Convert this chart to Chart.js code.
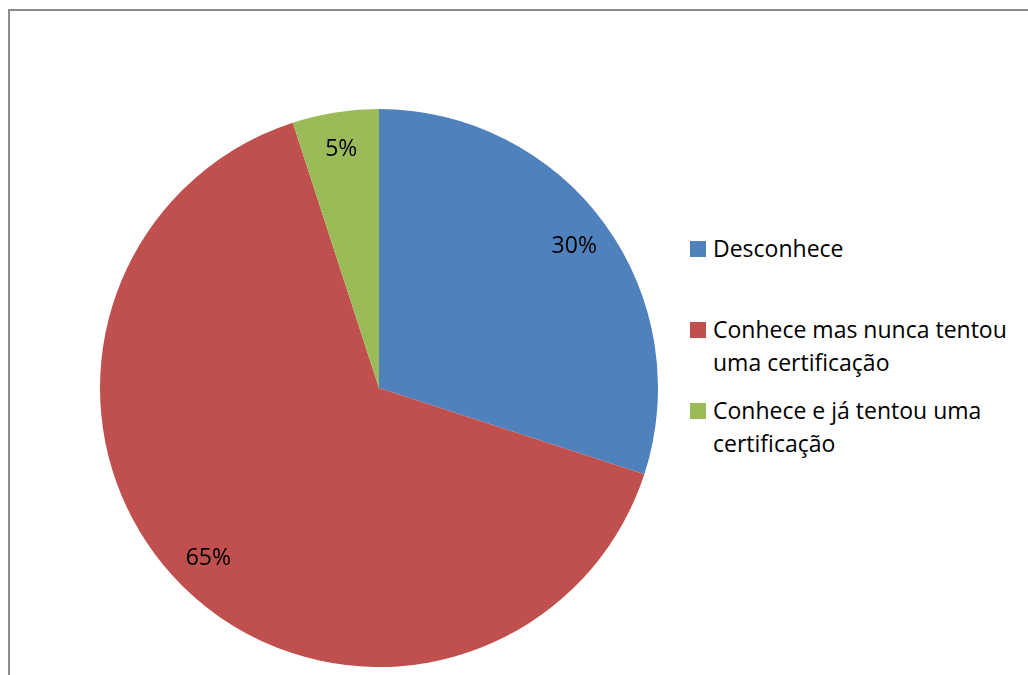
<!DOCTYPE html>
<html>
<head>
<meta charset="utf-8">
<script src="https://cdn.jsdelivr.net/npm/chart.js@4"></script>
<style>
    html, body { margin: 0; padding: 0; width: 1028px; height: 675px; overflow: hidden; background: #fff; }
    #frame { position: absolute; left: 8px; top: 9px; width: 1100px; height: 800px; border: 2px solid #8c8c8c; box-sizing: border-box; }
    #pieBox { position: absolute; left: 100px; top: 109px; width: 558px; height: 558px; }
    #legend { position: absolute; left: 690px; top: 232px; width: 332px; font-family: "Open Sans", sans-serif; font-size: 23px; color: #000; }
    .item { position: relative; padding-left: 23px; line-height: 33px; height: 81px; }
    .item .box { position: absolute; left: 0; top: 9px; width: 16px; height: 16px; }
</style>
</head>
<body>
<div id="frame"></div>
<div id="pieBox"><canvas id="pie"></canvas></div>
<div id="legend"></div>
<script>
const categories = ['Desconhece', 'Conhece mas nunca tentou uma certificação', 'Conhece e já tentou uma certificação'];
const shares = [30, 65, 5];
const colors = ['#4F81BD', '#C0504D', '#9BBB59'];

// percentage text inside each slice
const sliceLabels = {
    id: 'sliceLabels',
    afterDatasetsDraw(chart){
        let ctx = chart.ctx;
        let meta = chart.getDatasetMeta(0);
        ctx.save();
        ctx.font = '23px "Open Sans", sans-serif';
        ctx.fillStyle = '#000';
        ctx.textAlign = 'center';
        ctx.textBaseline = 'middle';
        meta.data.forEach((arc, i) => {
            let mid = (arc.startAngle + arc.endAngle) / 2;
            let r = arc.outerRadius * 0.865;
            ctx.fillText(shares[i] + '%', arc.x + Math.cos(mid) * r, arc.y + Math.sin(mid) * r);
        });
        ctx.restore();
    }
};

let chart = new Chart(document.getElementById('pie'), {
    type: 'pie',
    data: {
        labels: categories,
        datasets: [{
            data: shares,
            backgroundColor: colors,
            borderWidth: 0
        }]
    },
    options: {
        responsive: true,
        maintainAspectRatio: false,
        animation: false,
        layout: { padding: 0 },
        plugins: {
            legend: { display: false },
            tooltip: { enabled: false }
        }
    },
    plugins: [sliceLabels]
});

let legendBox = document.getElementById('legend');
chart.options.plugins.legend.labels.generateLabels(chart).forEach(item => {
    let row = document.createElement('div');
    row.className = 'item';
    row.innerHTML = `<span class="box" style="background:${item.fillStyle}"></span>${item.text}`;
    legendBox.appendChild(row);
});
</script>
</body>
</html>
